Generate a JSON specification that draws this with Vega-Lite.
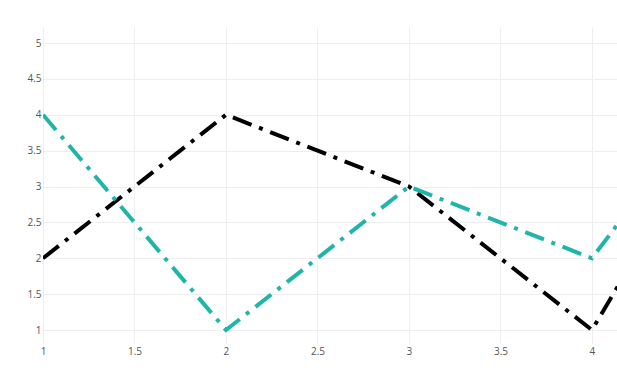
{
  "$schema": "https://vega.github.io/schema/vega-lite/v6.json",
  "width": 574,
  "height": 317,
  "autosize": {"type": "none"},
  "padding": {"left": 43, "top": 27, "right": 0, "bottom": 26},
  "background": "white",
  "config": {
    "view": {"stroke": null},
    "font": "Open Sans",
    "axis": {
      "domain": false,
      "ticks": false,
      "gridColor": "#eeeeee",
      "gridWidth": 1,
      "labelColor": "#555555",
      "labelFont": "Open Sans",
      "labelFontSize": 10,
      "title": null
    }
  },
  "data": {
    "values": [
      {"x": 1, "y": 2, "s": "a"},
      {"x": 2, "y": 4, "s": "a"},
      {"x": 3, "y": 3, "s": "a"},
      {"x": 4, "y": 1, "s": "a"},
      {"x": 5, "y": 5.3, "s": "a"},
      {"x": 1, "y": 4, "s": "b"},
      {"x": 2, "y": 1, "s": "b"},
      {"x": 3, "y": 3, "s": "b"},
      {"x": 4, "y": 2, "s": "b"},
      {"x": 5, "y": 5.37, "s": "b"}
    ]
  },
  "mark": {"type": "line", "clip": true, "strokeWidth": 4, "strokeDash": [20, 8, 4, 8], "strokeCap": "butt", "strokeJoin": "miter"},
  "encoding": {
    "x": {
      "field": "x", "type": "quantitative",
      "scale": {"domain": [1, 4.137], "nice": false, "zero": false},
      "axis": {"values": [1, 1.5, 2, 2.5, 3, 3.5, 4], "format": "~g", "labelPadding": 2, "labelFlush": false}
    },
    "y": {
      "field": "y", "type": "quantitative",
      "scale": {"domain": [0.805, 5.223], "nice": false, "zero": false},
      "axis": {"values": [1, 1.5, 2, 2.5, 3, 3.5, 4, 4.5, 5], "format": "~g", "labelPadding": 2}
    },
    "color": {
      "field": "s", "type": "nominal",
      "scale": {"domain": ["a", "b"], "range": ["#000000", "#1fb5a8"]},
      "legend": null
    },
    "order": {"field": "x"}
  }
}
